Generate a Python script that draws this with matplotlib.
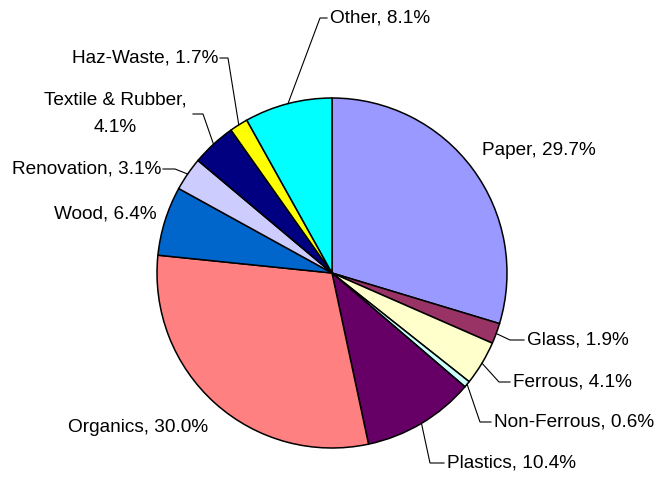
import matplotlib
matplotlib.use("Agg")
import matplotlib.pyplot as plt
import numpy as np

categories = ["Paper", "Glass", "Ferrous", "Non-Ferrous", "Plastics", "Organics",
              "Wood", "Renovation", "Textile & Rubber", "Haz-Waste", "Other"]
values = [29.7, 1.9, 4.1, 0.6, 10.4, 30.0, 6.4, 3.1, 4.1, 1.7, 8.1]
colors = ["#9999FF", "#993366", "#FFFFCC", "#CCFFFF", "#660066", "#FF8080",
          "#0066CC", "#CCCCFF", "#000080", "#FFFF00", "#00FFFF"]

W, H = 661, 478
plt.rcParams['font.family'] = ['Liberation Sans', 'DejaVu Sans']
fig = plt.figure(figsize=(W / 100, H / 100), dpi=100)
ax = fig.add_axes([0, 0, 1, 1])

cx, cy, R = 332, H - 273, 175
wedges, _ = ax.pie(values, colors=colors, startangle=90, counterclock=False,
                   center=(cx, cy), radius=R,
                   wedgeprops=dict(edgecolor="black", linewidth=1.1))
ax.set_xlim(0, W)
ax.set_ylim(0, H)
ax.set_aspect('equal')
ax.axis('off')

# label layout in image pixel coords: (x, y, ha, elbow_x, end_x) ; elbow None -> no leader
layout = {
    "Paper": (482, 150, 'left', None, None),
    "Glass": (527, 340, 'left', 510, 524),
    "Ferrous": (513, 382, 'left', 499, 510),
    "Non-Ferrous": (494, 422, 'left', 480, 491),
    "Plastics": (447, 463, 'left', 430, 444),
    "Organics": (208, 427, 'right', None, None),
    "Wood": (157, 214, 'right', None, None),
    "Renovation": (161, 169, 'right', 175, 163),
    "Textile & Rubber": (115, 114, 'center', 203, 193),
    "Haz-Waste": (218, 58, 'right', 228, 220),
    "Other": (330, 18, 'left', 320, 327),
}

fs = 13.7
for w, name, v in zip(wedges, categories, values):
    x, y, ha, ex, endx = layout[name]
    if name == "Textile & Rubber":
        txt = f"{name},\n{v:.1f}%"
    else:
        txt = f"{name}, {v:.1f}%"
    ax.text(x, H - y, txt, ha=ha, va='center', fontsize=fs, color='black',
            multialignment='center', linespacing=1.8)
    if ex is not None:
        ang = np.deg2rad((w.theta1 + w.theta2) / 2)
        px = cx + R * np.cos(ang)
        py = cy + R * np.sin(ang)
        ax.plot([px, ex, endx], [py, H - y, H - y], color='black', lw=0.8,
                solid_joinstyle='miter')

fig.savefig("out.png", dpi=100)
